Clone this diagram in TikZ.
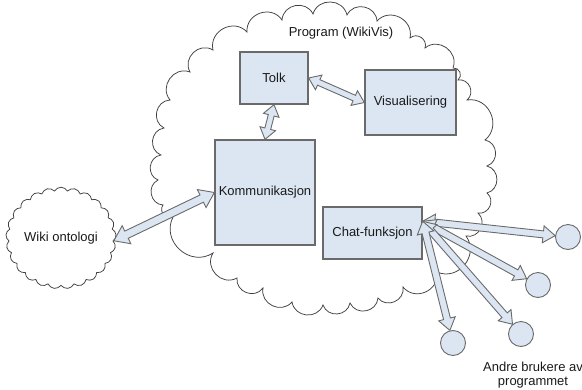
\documentclass[tikz,border=0pt]{standalone}
\usepackage{fontspec}
\setmainfont{Liberation Sans}
\usetikzlibrary{calc,shapes.symbols}
\definecolor{boxfill}{HTML}{DCE6F2}
\definecolor{boxline}{HTML}{6A6A6A}
\definecolor{cloudline}{HTML}{404040}
\definecolor{txt}{HTML}{1A1A1A}
\newcommand\blockarr[5]{%
  \draw[barrow] (#1)
   -- ($(#1)!#5!(#2)!#4!90:(#2)$)
   -- ($(#1)!#5!(#2)!#3!90:(#2)$)
   -- ($(#2)!#5!(#1)!#3!-90:(#1)$)
   -- ($(#2)!#5!(#1)!#4!-90:(#1)$)
   -- (#2)
   -- ($(#2)!#5!(#1)!#4!90:(#1)$)
   -- ($(#2)!#5!(#1)!#3!90:(#1)$)
   -- ($(#1)!#5!(#2)!#3!-90:(#2)$)
   -- ($(#1)!#5!(#2)!#4!-90:(#2)$)
   -- cycle;}
\begin{document}
\begin{tikzpicture}[x=1pt,y=1pt,
  lbl/.style={font=\fontsize{13}{14.5}\selectfont, text=txt},
  boxnode/.style={draw=boxline, line width=1.3pt, fill=boxfill, lbl, inner sep=0pt},
  barrow/.style={draw=boxline, line width=0.9pt, fill=boxfill, line join=miter},
  userc/.style={circle, draw=boxline, line width=0.9pt, fill=boxfill, minimum size=25pt, inner sep=0pt},
  bigcloud/.style={draw=cloudline, line width=0.75pt, fill=white},
  lobe/.style={bend left=75, looseness=1.3}]
\useasboundingbox (0,0) rectangle (582,-389);
% big cloud
\draw[bigcloud] (173,-217) to[lobe] (163,-205) to[lobe] (158,-180) to[lobe] (161,-155)
 to[lobe] (164,-128) to[lobe] (170,-100) to[lobe] (190,-72) to[lobe] (213,-50)
 to[lobe] (247,-32) to[lobe] (282,-20) to[lobe] (313,-14) to[lobe] (347,-15)
 to[lobe] (377,-21) to[lobe] (410,-38) to[lobe] (425,-48) to[lobe] (453,-68)
 to[lobe] (458,-80) to[lobe] (467,-100) to[lobe] (485,-140) to[lobe] (487,-166)
 to[lobe] (487,-193) to[lobe] (478,-213) to[lobe] (466,-236) to[lobe] (437,-272)
 to[lobe] (403,-287) to[lobe] (378,-298) to[lobe] (350,-303) to[lobe] (323,-305)
 to[lobe] (292,-302) to[lobe] (263,-288) to[lobe] (237,-278) to[lobe] (213,-253)
 to[lobe] (173,-217) -- cycle;
\node[lbl] (prog) at (341,-33) {Program (WikiVis)};
% boxes
\node[boxnode, minimum width=68pt, minimum height=52pt] (tolk) at (274,-78) {Tolk};
\node[boxnode, minimum width=91pt, minimum height=65pt] (vis) at (410.5,-102.5) {Visualisering};
\node[boxnode, minimum width=100pt, minimum height=105pt] (komm) at (265,-192.5) {Kommunikasjon};
\node[boxnode, minimum width=99pt, minimum height=52pt] (chat) at (372.5,-233) {Chat-funksjon};
% wiki cloud
\node[cloud, cloud puffs=25, cloud puff arc=120, aspect=1.1, draw=cloudline, line width=0.75pt,
  fill=white, minimum width=96pt, minimum height=86pt, inner sep=0pt, lbl] (wiki) at (61,-238) {Wiki ontologi};
% users
\node[userc] (c1) at (568,-237) {};
\node[userc] (c2) at (538,-285) {};
\node[userc] (c3) at (521,-334) {};
\node[userc] (c4) at (453,-343) {};
\node[lbl, align=center] (users) at (533,-375) {Andre brukere av\\programmet};
% arrows
\coordinate (cp) at ($(chat.north east)!0.28!(chat.south east)$);
\blockarr{tolk.east}{vis.west}{3pt}{8pt}{11pt}
\blockarr{tolk.south}{komm.north}{3pt}{8pt}{11pt}
\blockarr{wiki.-3}{komm.west}{4pt}{10pt}{14pt}
\blockarr{cp}{c1.174}{3.5pt}{8.5pt}{12pt}
\blockarr{cp}{c2.151}{3.5pt}{8.5pt}{12pt}
\blockarr{cp}{c3.131}{3.5pt}{8.5pt}{12pt}
\blockarr{cp}{c4.104}{3.5pt}{8.5pt}{12pt}
\end{tikzpicture}
\end{document}
